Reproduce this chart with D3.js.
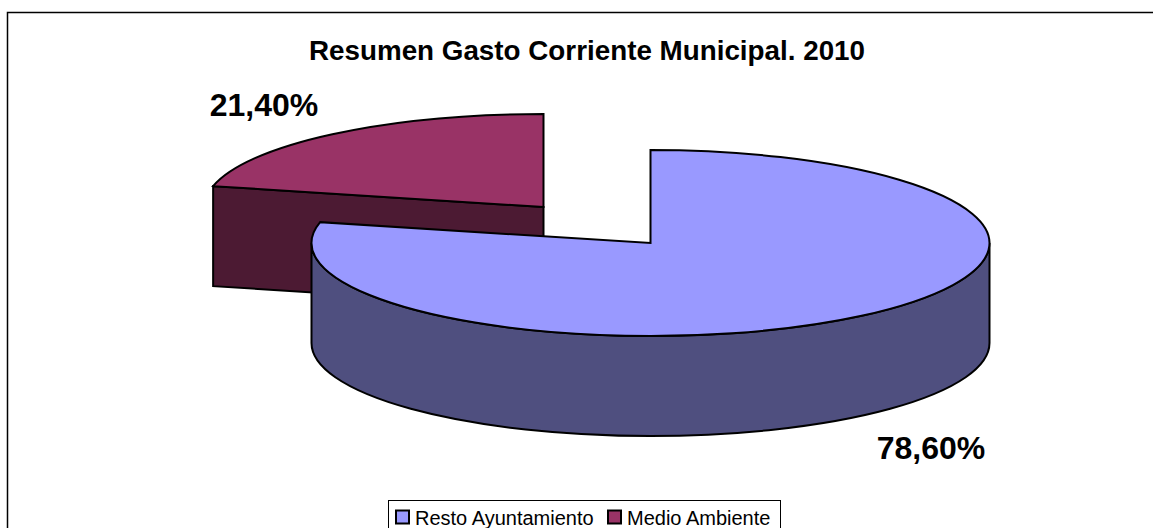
<!DOCTYPE html>
<html>
<head>
<script src="https://d3js.org/d3.v7.min.js"></script>
<style>
  html, body { margin: 0; padding: 0; background: #fff; }
  svg { display: block; }
  text { font-family: "Liberation Sans", Arial, sans-serif; fill: #000; }
</style>
</head>
<body>
<script>
// Chart data
const categories = ["Resto Ayuntamiento", "Medio Ambiente"];
const values = [78.6, 21.4];
const valueLabels = ["78,60%", "21,40%"];
const chartTitle = "Resumen Gasto Corriente Municipal. 2010";

const width = 1153, height = 528;
const topColors = ["#9999ff", "#993366"];
const wallColors = ["#4f4f7f", "#4c1a33"];

// pie centre for each slice (second slice is pulled out)
const centers = [{x: 650.5, y: 243}, {x: 543.5, y: 207}];
const rx = 339, ry = 93, depth = 100;

const svg = d3.select("body").append("svg")
    .attr("width", width)
    .attr("height", height);

// chart frame, runs off the right and bottom of the picture
svg.append("rect")
    .attr("x", 7.5).attr("y", 12.5)
    .attr("width", width + 20).attr("height", height + 20)
    .attr("fill", "#fff").attr("stroke", "#000").attr("stroke-width", 1.5);

const pie = d3.pie().sort(null).value(d => d);
const slices = pie(values);

function px(c, a) { return c.x + rx * Math.sin(a); }
function py(c, a) { return c.y - ry * Math.cos(a); }

function topPath(c, s) {
    const large = s.endAngle - s.startAngle > Math.PI ? 1 : 0;
    return "M" + c.x + "," + c.y +
        "L" + px(c, s.startAngle) + "," + py(c, s.startAngle) +
        "A" + rx + "," + ry + " 0 " + large + " 1 " + px(c, s.endAngle) + "," + py(c, s.endAngle) + "Z";
}

// front wall of the big slice: the rim between 90 and 270 degrees
function rimWall(c) {
    const x0 = c.x + rx, x1 = c.x - rx;
    return "M" + x0 + "," + c.y +
        "A" + rx + "," + ry + " 0 0 1 " + x1 + "," + c.y +
        "L" + x1 + "," + (c.y + depth) +
        "A" + rx + "," + ry + " 0 0 0 " + x0 + "," + (c.y + depth) + "Z";
}

// cut face of the pulled out slice, from its left edge to the apex
function cutWall(c, s) {
    const x0 = px(c, s.startAngle), y0 = py(c, s.startAngle);
    return "M" + x0 + "," + y0 + "L" + c.x + "," + c.y +
        "L" + c.x + "," + (c.y + depth) + "L" + x0 + "," + (y0 + depth) + "Z";
}

const sw = 2;

svg.append("path").attr("d", cutWall(centers[1], slices[1]))
    .attr("fill", wallColors[1]).attr("stroke", "#000").attr("stroke-width", sw);
svg.append("path").attr("d", topPath(centers[1], slices[1]))
    .attr("fill", topColors[1]).attr("stroke", "#000").attr("stroke-width", sw);
svg.append("path").attr("d", rimWall(centers[0]))
    .attr("fill", wallColors[0]).attr("stroke", "#000").attr("stroke-width", sw);
svg.append("path").attr("d", topPath(centers[0], slices[0]))
    .attr("fill", topColors[0]).attr("stroke", "#000").attr("stroke-width", sw);

// title
svg.append("text")
    .attr("x", 587).attr("y", 60)
    .attr("text-anchor", "middle")
    .style("font-size", "27.8px").style("font-weight", "bold")
    .text(chartTitle);

// value labels
const labelPos = [{x: 931, y: 459}, {x: 264, y: 116}];
svg.selectAll(".val").data(valueLabels).enter().append("text")
    .attr("class", "val")
    .attr("x", (d, i) => labelPos[i].x)
    .attr("y", (d, i) => labelPos[i].y)
    .attr("text-anchor", "middle")
    .style("font-size", "32px").style("font-weight", "bold")
    .text(d => d);

// legend
svg.append("rect")
    .attr("x", 388.5).attr("y", 500.5)
    .attr("width", 392).attr("height", 40)
    .attr("fill", "#fff").attr("stroke", "#000");

const legendX = [396, 608];
const legend = svg.selectAll(".leg").data(categories).enter().append("g")
    .attr("class", "leg")
    .attr("transform", (d, i) => "translate(" + legendX[i] + ",510.5)");
legend.append("rect")
    .attr("width", 13).attr("height", 13)
    .attr("fill", (d, i) => topColors[i])
    .attr("stroke", "#000").attr("stroke-width", 2);
legend.append("text")
    .attr("x", 19).attr("y", 14)
    .style("font-size", "20px")
    .text(d => d);
</script>
</body>
</html>
